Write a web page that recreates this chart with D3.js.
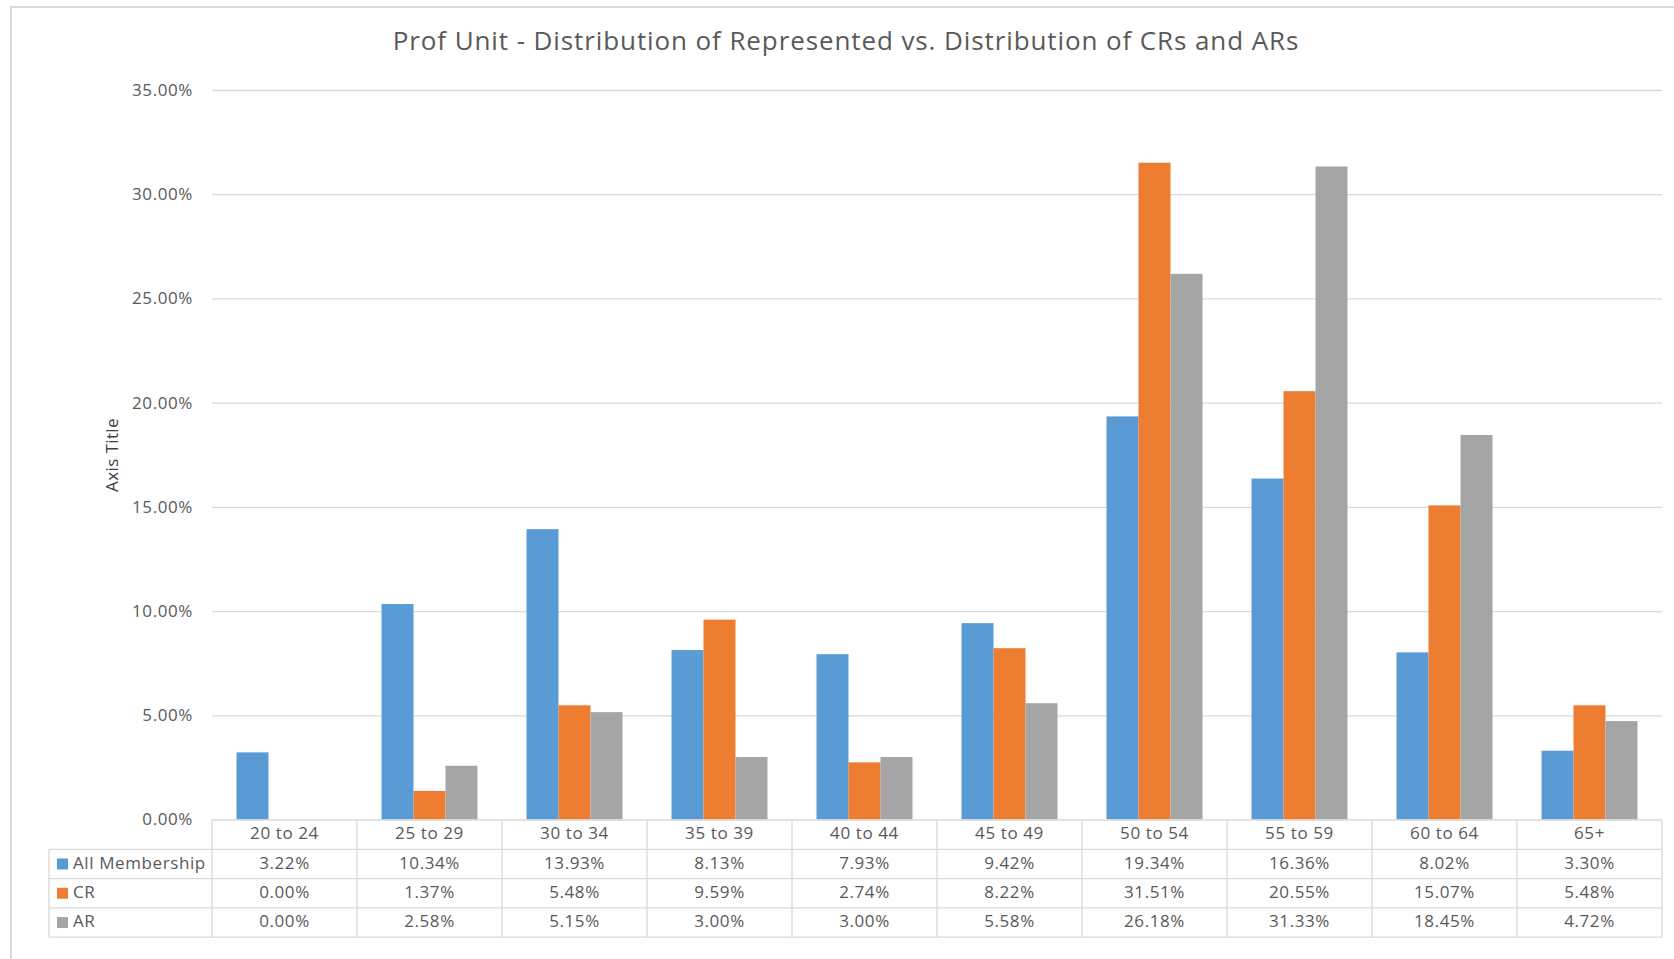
<!DOCTYPE html>
<html>
<head>
<meta charset="utf-8">
<script src="https://cdn.jsdelivr.net/npm/d3@7"></script>
<style>
  body { margin: 0; background: #fff; }
  svg { display: block; font-family: "Open Sans", "Noto Sans", sans-serif; }
</style>
</head>
<body>
<div id="chart"></div>
<script>
// chart data
var categories = ["20 to 24", "25 to 29", "30 to 34", "35 to 39", "40 to 44", "45 to 49", "50 to 54", "55 to 59", "60 to 64", "65+"];
var seriesNames = ["All Membership", "CR", "AR"];
var allMembership = [0.0322, 0.1034, 0.1393, 0.0813, 0.0793, 0.0942, 0.1934, 0.1636, 0.0802, 0.0330];
var crValues = [0.0000, 0.0137, 0.0548, 0.0959, 0.0274, 0.0822, 0.3151, 0.2055, 0.1507, 0.0548];
var arValues = [0.0000, 0.0258, 0.0515, 0.0300, 0.0300, 0.0558, 0.2618, 0.3133, 0.1845, 0.0472];
var yTicks = [0, 0.05, 0.10, 0.15, 0.20, 0.25, 0.30, 0.35];
var colors = ["#5b9bd5", "#ed7d31", "#a5a5a5"];

var seriesValues = [allMembership, crValues, arValues];

var W = 1674, H = 959;
var plot = { left: 212, right: 1662, top: 90, bottom: 820 };
var rowH = 29.3;
var tableLeft = 49;
var gridColor = "#d9d9d9";
var textColor = "#595959";

var svg = d3.select("#chart")
    .append("svg")
    .attr("width", W)
    .attr("height", H);

// chart frame (only top and left edges are visible)
svg.append("path")
    .attr("d", "M11," + H + "V7H" + W)
    .attr("fill", "none")
    .attr("stroke", gridColor)
    .attr("stroke-width", 2);

// title
svg.append("text")
    .attr("x", 846)
    .attr("y", 50)
    .attr("text-anchor", "middle")
    .style("font-size", "26px")
    .style("letter-spacing", "0.9px")
    .style("fill", textColor)
    .text("Prof Unit - Distribution of Represented vs. Distribution of CRs and ARs");

// scales
var x = d3.scaleBand()
    .domain(categories)
    .range([plot.left, plot.right]);

var gap = x.bandwidth() * 0.169;
var xSub = d3.scaleBand()
    .domain(seriesNames)
    .range([gap, x.bandwidth() - gap]);

var y = d3.scaleLinear()
    .domain([0, 0.35])
    .range([plot.bottom - 0.5, plot.top]);

// gridlines
var grid = svg.append("g")
    .attr("transform", "translate(" + plot.left + ",0)")
    .call(d3.axisLeft(y).tickValues(yTicks.slice(1)).tickSize(-(plot.right - plot.left)).tickFormat(""));
grid.select(".domain").remove();
grid.selectAll("line").attr("stroke", gridColor).attr("stroke-width", 1.3);

// y axis labels
var yAxis = svg.append("g")
    .attr("transform", "translate(" + plot.left + ",0)")
    .call(d3.axisLeft(y).tickValues(yTicks).tickSize(0).tickPadding(19).tickFormat(d3.format(".2%")));
yAxis.select(".domain").remove();
yAxis.selectAll("text")
    .style("font-family", "\"Open Sans\", sans-serif")
    .style("font-size", "17px")
    .style("letter-spacing", "0.6px")
    .style("fill", textColor);

// axis title
svg.append("text")
    .attr("transform", "translate(112," + ((plot.top + plot.bottom) / 2) + ") rotate(-90)")
    .attr("text-anchor", "middle")
    .attr("dy", "0.35em")
    .style("font-size", "17px")
    .style("letter-spacing", "0.4px")
    .style("fill", "#404040")
    .text("Axis Title");

// bars
var groups = svg.append("g")
    .selectAll("g")
    .data(categories)
    .enter()
    .append("g")
    .attr("transform", function (d) { return "translate(" + x(d) + ",0)"; });

groups.selectAll("rect")
    .data(function (d, i) {
        return seriesNames.map(function (s, j) { return { name: s, value: seriesValues[j][i], k: j }; });
    })
    .enter()
    .append("rect")
    .attr("x", function (d) { return xSub(d.name); })
    .attr("width", xSub.bandwidth())
    .attr("y", function (d) { return y(d.value); })
    .attr("height", function (d) { return y(0) - y(d.value); })
    .attr("fill", function (d) { return colors[d.k]; });

// data table
var table = svg.append("g");
var tableBottom = plot.bottom + rowH * 4;

// horizontal lines
table.append("line")
    .attr("x1", plot.left).attr("x2", plot.right)
    .attr("y1", plot.bottom).attr("y2", plot.bottom);
d3.range(1, 5).forEach(function (r) {
    table.append("line")
        .attr("x1", tableLeft).attr("x2", plot.right)
        .attr("y1", plot.bottom + r * rowH).attr("y2", plot.bottom + r * rowH);
});
// vertical lines
table.append("line")
    .attr("x1", tableLeft).attr("x2", tableLeft)
    .attr("y1", plot.bottom + rowH).attr("y2", tableBottom);
categories.concat([null]).forEach(function (c, i) {
    var xx = plot.left + i * x.step();
    table.append("line")
        .attr("x1", xx).attr("x2", xx)
        .attr("y1", plot.bottom).attr("y2", tableBottom);
});
table.selectAll("line")
    .attr("stroke", gridColor)
    .attr("stroke-width", 1.3);

// category labels
table.selectAll(".cat")
    .data(categories)
    .enter()
    .append("text")
    .attr("class", "cat")
    .attr("x", function (d) { return x(d) + x.bandwidth() / 2; })
    .attr("y", plot.bottom + rowH / 2)
    .attr("dy", "0.28em")
    .attr("text-anchor", "middle")
    .text(function (d) { return d; });

// row legends and values
var fmt = d3.format(".2%");
seriesNames.forEach(function (s, j) {
    var cy = plot.bottom + rowH * (j + 1) + rowH / 2;
    table.append("rect")
        .attr("x", 57).attr("y", cy - 5.5)
        .attr("width", 11).attr("height", 11)
        .attr("fill", colors[j]);
    table.append("text")
        .attr("x", 73).attr("y", cy)
        .attr("dy", "0.28em")
        .text(s);
    table.selectAll(".v" + j)
        .data(seriesValues[j])
        .enter()
        .append("text")
        .attr("class", "v" + j)
        .attr("x", function (d, i) { return x(categories[i]) + x.bandwidth() / 2; })
        .attr("y", cy)
        .attr("dy", "0.28em")
        .attr("text-anchor", "middle")
        .text(function (d) { return fmt(d); });
});
table.selectAll("text")
    .style("font-size", "17px")
    .style("letter-spacing", "0.6px")
    .style("fill", textColor);
</script>
</body>
</html>
